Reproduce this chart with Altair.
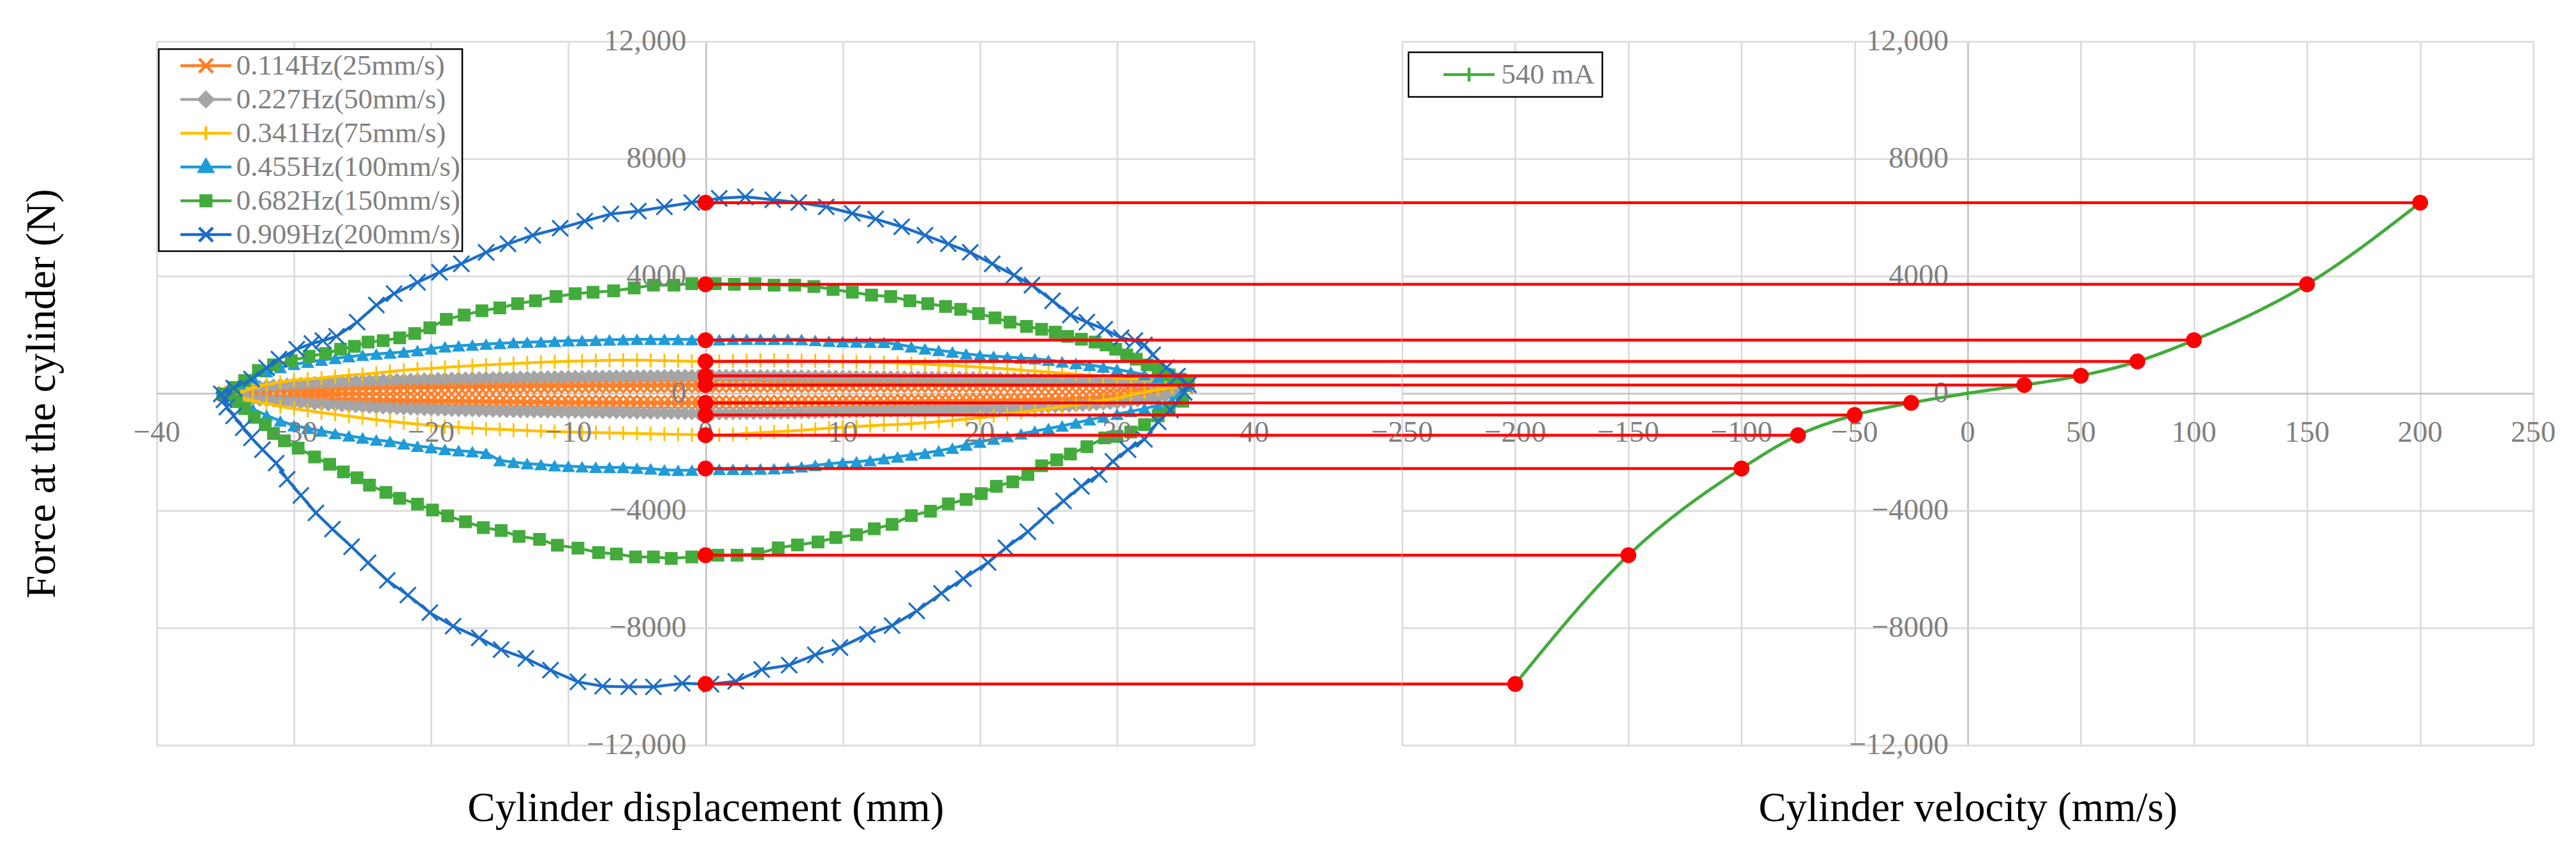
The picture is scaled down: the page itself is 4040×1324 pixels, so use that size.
import altair as alt
import pandas as pd

# ---------------- layout / style constants ----------------
FONT = "Liberation Serif"
LABEL_GREY = "#808080"
GRID_GREY = "#d9d9d9"
ZERO_GREY = "#bfbfbf"
RED = "#ff0000"
LW, RW, PH = 1721, 1774, 1104
GAP = 232

# ---------------- axes ----------------
XL_DOMAIN = [-40, 40]
XR_DOMAIN = [-250, 250]
Y_DOMAIN = [-12000, 12000]
X_TICKS_L = [-40, -30, -20, -10, 0, 10, 20, 30, 40]
X_TICKS_R = [-250, -200, -150, -100, -50, 0, 50, 100, 150, 200, 250]
Y_TICKS = [-12000, -8000, -4000, 0, 4000, 8000, 12000]
AXIS_CROSS = 0  # both axes cross at zero

# ---------------- series ----------------
SERIES = ["0.114Hz(25mm/s)", "0.227Hz(50mm/s)", "0.341Hz(75mm/s)",
          "0.455Hz(100mm/s)", "0.682Hz(150mm/s)", "0.909Hz(200mm/s)"]
SERIES_COLORS = ["#ff7f27", "#a5a5a5", "#ffc000", "#1f9bd7", "#43ab3c", "#1c6ec6"]

# displacement grids (mm) at which the dense loops were read
X05 = [
    -35.0, -34.5, -34.0, -33.5, -33.0, -32.5, -32.0, -31.5, -31.0, -30.5,
    -30.0, -29.5, -29.0, -28.5, -28.0, -27.5, -27.0, -26.5, -26.0, -25.5,
    -25.0, -24.5, -24.0, -23.5, -23.0, -22.5, -22.0, -21.5, -21.0, -20.5,
    -20.0, -19.5, -19.0, -18.5, -18.0, -17.5, -17.0, -16.5, -16.0, -15.5,
    -15.0, -14.5, -14.0, -13.5, -13.0, -12.5, -12.0, -11.5, -11.0, -10.5,
    -10.0, -9.5, -9.0, -8.5, -8.0, -7.5, -7.0, -6.5, -6.0, -5.5,
    -5.0, -4.5, -4.0, -3.5, -3.0, -2.5, -2.0, -1.5, -1.0, -0.5,
    0.0, 0.5, 1.0, 1.5, 2.0, 2.5, 3.0, 3.5, 4.0, 4.5,
    5.0, 5.5, 6.0, 6.5, 7.0, 7.5, 8.0, 8.5, 9.0, 9.5,
    10.0, 10.5, 11.0, 11.5, 12.0, 12.5, 13.0, 13.5, 14.0, 14.5,
    15.0, 15.5, 16.0, 16.5, 17.0, 17.5, 18.0, 18.5, 19.0, 19.5,
    20.0, 20.5, 21.0, 21.5, 22.0, 22.5, 23.0, 23.5, 24.0, 24.5,
    25.0, 25.5, 26.0, 26.5, 27.0, 27.5, 28.0, 28.5, 29.0, 29.5,
    30.0, 30.5, 31.0, 31.5, 32.0, 32.5, 33.0, 33.5, 34.0, 34.5,
    35.0,
]
X1 = [
    -35, -34, -33, -32, -31, -30, -29, -28, -27, -26,
    -25, -24, -23, -22, -21, -20, -19, -18, -17, -16,
    -15, -14, -13, -12, -11, -10, -9, -8, -7, -6,
    -5, -4, -3, -2, -1, 0, 1, 2, 3, 4,
    5, 6, 7, 8, 9, 10, 11, 12, 13, 14,
    15, 16, 17, 18, 19, 20, 21, 22, 23, 24,
    25, 26, 27, 28, 29, 30, 31, 32, 33, 34,
    35,
]

# 0.114 Hz (25 mm/s) - force (N) on X05
ORANGE_UP = [
    -20, 5, 25, 45, 62, 77, 90, 100, 110, 118,
    125, 131, 138, 144, 150, 154, 160, 164, 170, 173,
    177, 181, 185, 188, 192, 196, 200, 203, 207, 211,
    215, 217, 220, 223, 225, 227, 230, 233, 235, 237,
    240, 242, 245, 248, 250, 253, 255, 256, 259, 261,
    262, 263, 265, 266, 268, 269, 270, 271, 272, 273,
    274, 275, 276, 277, 278, 279, 280, 280, 281, 282,
    282, 283, 284, 284, 284, 285, 286, 286, 287, 287,
    287, 288, 288, 289, 289, 289, 290, 290, 290, 291,
    290, 290, 291, 290, 290, 291, 290, 290, 290, 289,
    290, 289, 289, 289, 288, 288, 288, 287, 287, 287,
    286, 286, 286, 285, 285, 285, 284, 284, 284, 284,
    284, 283, 284, 284, 284, 284, 285, 286, 287, 288,
    290, 292, 294, 297, 300, 303, 306, 309, 312, 300,
    250,
]
ORANGE_LO = [
    -20, -42, -60, -76, -90, -103, -115, -126, -135, -143,
    -150, -158, -165, -173, -180, -186, -193, -199, -205, -210,
    -215, -220, -225, -229, -233, -237, -240, -244, -248, -251,
    -255, -258, -262, -265, -268, -271, -274, -277, -280, -283,
    -285, -288, -290, -293, -295, -298, -300, -302, -304, -306,
    -308, -310, -311, -313, -314, -315, -316, -317, -318, -319,
    -320, -321, -322, -323, -323, -324, -325, -325, -326, -326,
    -326, -326, -326, -325, -325, -324, -324, -323, -322, -321,
    -320, -319, -318, -317, -316, -314, -312, -310, -309, -307,
    -305, -304, -302, -300, -298, -297, -295, -293, -290, -288,
    -285, -283, -280, -277, -274, -271, -268, -265, -262, -258,
    -255, -251, -248, -244, -240, -235, -230, -226, -220, -214,
    -208, -202, -195, -187, -178, -170, -160, -150, -139, -128,
    -115, -100, -84, -68, -50, -27, 0, 40, 90, 160,
    250,
]
# 0.227 Hz (50 mm/s) - force (N) on X05
GRAY_UP = [
    -20, 60, 120, 165, 200, 228, 250, 271, 290, 306,
    320, 333, 345, 358, 370, 380, 390, 400, 410, 419,
    428, 437, 445, 451, 458, 464, 470, 475, 480, 485,
    490, 495, 500, 505, 510, 514, 518, 521, 525, 529,
    532, 536, 540, 543, 546, 549, 552, 554, 557, 560,
    562, 565, 567, 570, 572, 574, 576, 578, 580, 582,
    584, 586, 588, 590, 591, 593, 595, 597, 598, 599,
    600, 600, 600, 599, 598, 597, 596, 594, 592, 590,
    588, 587, 585, 582, 580, 578, 575, 573, 570, 568,
    565, 563, 562, 560, 558, 556, 555, 552, 550, 548,
    546, 544, 542, 540, 538, 536, 535, 533, 530, 528,
    525, 520, 515, 510, 505, 501, 498, 494, 490, 483,
    476, 468, 460, 453, 445, 438, 430, 421, 413, 404,
    395, 386, 378, 369, 360, 350, 340, 330, 320, 300,
    250,
]
GRAY_LO = [
    -20, -80, -130, -168, -200, -222, -240, -258, -275, -290,
    -305, -321, -337, -354, -370, -385, -400, -415, -430, -443,
    -456, -468, -480, -490, -500, -510, -520, -528, -535, -543,
    -550, -557, -563, -569, -575, -580, -585, -590, -595, -599,
    -603, -607, -610, -613, -615, -618, -620, -623, -625, -628,
    -630, -633, -635, -638, -640, -643, -645, -648, -650, -653,
    -656, -659, -662, -665, -669, -672, -676, -681, -687, -694,
    -700, -695, -690, -686, -683, -680, -677, -674, -672, -669,
    -666, -663, -660, -656, -652, -649, -645, -641, -637, -633,
    -628, -624, -620, -616, -612, -608, -604, -600, -596, -592,
    -588, -584, -580, -575, -570, -565, -560, -555, -550, -545,
    -540, -533, -526, -519, -512, -505, -497, -489, -480, -470,
    -460, -450, -440, -428, -415, -403, -390, -373, -356, -338,
    -320, -296, -272, -246, -220, -180, -135, -90, -40, 90,
    250,
]
# 0.341 Hz (75 mm/s) - force (N) on X1
YELLOW_UP = [
    -20, 40, 180, 290, 380, 450, 490, 525, 575, 620,
    650, 690, 740, 790, 825, 855, 885, 915, 940, 965,
    990, 1015, 1040, 1060, 1075, 1090, 1105, 1115, 1125, 1130,
    1128, 1122, 1115, 1105, 1095, 1087, 1095, 1105, 1115, 1120,
    1125, 1120, 1115, 1105, 1095, 1085, 1075, 1065, 1050, 1035,
    1015, 995, 975, 950, 920, 890, 860, 830, 795, 760,
    725, 690, 655, 615, 580, 540, 500, 460, 420, 370,
    250,
]
YELLOW_LO = [
    -20, -140, -250, -350, -450, -520, -590, -660, -720, -780,
    -840, -900, -955, -1005, -1050, -1095, -1130, -1160, -1185, -1210,
    -1230, -1250, -1270, -1290, -1305, -1318, -1330, -1340, -1350, -1360,
    -1370, -1380, -1390, -1400, -1410, -1428, -1420, -1400, -1370, -1340,
    -1315, -1290, -1260, -1225, -1190, -1160, -1130, -1105, -1080, -1065,
    -1040, -1005, -965, -925, -880, -830, -770, -710, -650, -590,
    -520, -450, -385, -310, -240, -170, -50, 40, 130, 200,
    250,
]
# 0.455 Hz (100 mm/s) - force (N) on X1
TRI_UP = [
    -20, 330, 540, 740, 880, 990, 1060, 1130, 1190, 1250,
    1300, 1340, 1375, 1410, 1460, 1520, 1590, 1620, 1650, 1680,
    1705, 1730, 1745, 1755, 1775, 1795, 1800, 1812, 1825, 1835,
    1845, 1845, 1845, 1840, 1835, 1815, 1830, 1845, 1845, 1845,
    1845, 1845, 1835, 1805, 1780, 1762, 1752, 1748, 1740, 1670,
    1590, 1520, 1465, 1410, 1345, 1295, 1265, 1240, 1205, 1180,
    1130, 1075, 1020, 960, 900, 820, 730, 640, 550, 460,
    250,
]
TRI_LO = [
    -20, -300, -540, -750, -940, -1100, -1190, -1280, -1370, -1450,
    -1520, -1590, -1640, -1720, -1800, -1850, -1910, -1955, -1990, -2040,
    -2290, -2350, -2395, -2430, -2465, -2485, -2505, -2520, -2525, -2525,
    -2550, -2575, -2610, -2625, -2620, -2565, -2590, -2590, -2590, -2580,
    -2570, -2540, -2505, -2455, -2400, -2360, -2335, -2290, -2225, -2165,
    -2100, -2040, -1960, -1870, -1760, -1660, -1560, -1470, -1380, -1290,
    -1200, -1110, -1010, -900, -800, -710, -620, -520, -410, -270,
    250,
]
# 0.682 Hz (150 mm/s) - read marker positions
GREEN_UP_X = [
    -35.2, -34.4, -33.6, -32.6, -31.5, -30.2, -28.9, -27.7, -26.6, -25.6,
    -24.6, -23.5, -22.3, -21.2, -20.1, -18.9, -17.6, -16.3, -15.0, -13.7,
    -12.4, -10.9, -9.5, -8.2, -6.7, -5.2, -3.8, -2.3, -1.0, 0.7,
    2.1, 3.6, 5.0, 6.5, 7.9, 9.3, 10.7, 12.1, 13.5, 14.9,
    16.2, 17.5, 18.6, 19.9, 21.1, 22.2, 23.4, 24.5, 25.5, 26.4,
    27.4, 28.4, 29.2, 29.9, 30.7, 31.4, 32.2, 33.0, 33.8, 34.6,
    35.2,
]
GREEN_UP_F = [
    -20, 200, 437, 777, 971, 1117, 1262, 1359, 1505, 1602,
    1748, 1796, 1893, 2039, 2233, 2524, 2670, 2816, 2913, 3058,
    3155, 3301, 3398, 3447, 3495, 3592, 3689, 3689, 3738, 3738,
    3718, 3738, 3689, 3689, 3641, 3544, 3447, 3350, 3301, 3155,
    3058, 2961, 2864, 2718, 2573, 2427, 2282, 2184, 2087, 1942,
    1845, 1748, 1650, 1505, 1311, 1165, 971, 825, 631, 485,
    340,
]
GREEN_LO_X = [
    34.8, 33.8, 33.0, 32.0, 31.0, 30.0, 29.1, 27.8, 26.6, 25.6,
    24.5, 23.5, 22.4, 21.2, 20.1, 19.0, 17.7, 16.4, 15.0, 13.6,
    12.3, 11.0, 9.5, 8.2, 6.7, 5.3, 3.8, 2.3, 0.9, -1.0,
    -2.5, -3.8, -5.1, -6.5, -7.8, -9.3, -10.8, -12.1, -13.6, -14.9,
    -16.2, -17.5, -18.8, -19.9, -21.0, -22.3, -23.3, -24.5, -25.4, -26.4,
    -27.4, -28.5, -29.7, -30.7, -31.5, -32.1, -32.9, -33.6, -34.2, -34.7,
]
GREEN_LO_F = [
    -270, -570, -770, -1070, -1320, -1470, -1520, -1820, -2070, -2270,
    -2470, -2770, -3020, -3170, -3420, -3620, -3770, -4020, -4170, -4470,
    -4620, -4820, -4920, -5070, -5170, -5270, -5470, -5520, -5520, -5580,
    -5630, -5580, -5580, -5480, -5430, -5280, -5180, -4980, -4880, -4680,
    -4580, -4380, -4180, -3980, -3780, -3580, -3380, -3130, -2880, -2680,
    -2420, -2170, -1870, -1620, -1370, -1070, -820, -520, -270, -70,
]
# 0.909 Hz (200 mm/s) - read marker positions
BLUE_UP_X = [
    -35.3, -34.4, -33.1, -32.0, -31.1, -29.8, -28.7, -27.9, -26.9, -25.4,
    -24.0, -22.7, -21.0, -19.4, -17.8, -16.0, -14.4, -12.6, -10.6, -8.8,
    -6.9, -4.9, -3.0, -1.0, 1.0, 2.9, 4.9, 6.8, 8.8, 10.7,
    12.4, 14.3, 16.0, 17.7, 19.3, 20.9, 22.5, 23.8, 25.3, 26.6,
    27.8, 29.1, 30.3, 31.3, 32.0, 32.6, 33.6, 34.4, 35.2,
]
BLUE_UP_F = [
    -20, 180, 485, 874, 1165, 1505, 1700, 1796, 1942, 2427,
    3010, 3398, 3786, 4126, 4417, 4806, 5097, 5388, 5631, 5874,
    6117, 6214, 6359, 6505, 6650, 6699, 6602, 6505, 6359, 6136,
    5942, 5680, 5388, 5097, 4806, 4417, 4029, 3689, 3155, 2670,
    2427, 2184, 1893, 1796, 1650, 1311, 874, 583, 291,
]
BLUE_LO_X = [
    34.9, 33.9, 33.0, 32.0, 30.8, 29.7, 28.7, 27.4, 26.1, 24.8,
    23.5, 21.9, 20.6, 18.8, 17.2, 15.4, 13.6, 11.8, 9.8, 8.0,
    6.1, 4.1, 2.2, 0.4, -1.7, -3.8, -5.6, -7.5, -9.3, -11.3,
    -13.1, -14.9, -16.5, -18.4, -20.1, -21.7, -23.2, -24.6, -25.8, -27.2,
    -28.4, -29.5, -30.5, -31.3, -32.3, -33.1, -33.7, -34.4, -34.9, -35.1,
]
BLUE_LO_F = [
    30, -570, -970, -1570, -1920, -2320, -2770, -3170, -3670, -4170,
    -4720, -5270, -5770, -6320, -6820, -7420, -7920, -8220, -8670, -8920,
    -9270, -9420, -9820, -9920, -9890, -10010, -10010, -9990, -9840, -9440,
    -9040, -8740, -8340, -7940, -7480, -6880, -6380, -5780, -5230, -4630,
    -4080, -3480, -2930, -2380, -1920, -1520, -1170, -770, -470, -220,
]

# 540 mA force-velocity curve
CURRENT_NAME = "540 mA"
VEL = [-200, -150, -100, -75, -50, -25, 0, 25, 50, 75, 100, 150, 200]
VEL_F = [-9913, -5522, -2565, -1428, -739, -326, 0, 282, 600, 1087, 1813, 3717, 6500]
GREEN_540 = "#43ab3c"

# red projection points: displacement (loop crossing), velocity, force
RED_X = [0, 0, 0, 0, 0, 0, 0, 0, 0, 0, 0, 0]
RED_V = [200, 150, 100, 75, 50, 25, -25, -50, -75, -100, -150, -200]
RED_F = [6500, 3717, 1813, 1087, 600, 282, -326, -739, -1428, -2565, -5522, -9913]

for a, b in [(X05, ORANGE_UP), (X05, ORANGE_LO), (X05, GRAY_UP), (X05, GRAY_LO),
             (X1, YELLOW_UP), (X1, YELLOW_LO), (X1, TRI_UP), (X1, TRI_LO),
             (GREEN_UP_X, GREEN_UP_F), (GREEN_LO_X, GREEN_LO_F),
             (BLUE_UP_X, BLUE_UP_F), (BLUE_LO_X, BLUE_LO_F), (VEL, VEL_F),
             (RED_V, RED_F), (RED_X, RED_F)]:
    assert len(a) == len(b), (len(a), len(b))

# ---------------- marker shapes ----------------
X_PATH = "M-1,-1L1,1M-1,1L1,-1"
PLUS_PATH = "M0,-1L0,1M-1,0L1,0"
LEG_X = "M-1,0L1,0M-0.27,-0.27L0.27,0.27M-0.27,0.27L0.27,-0.27"
LEG_DIAMOND = "M-1,0L1,0M0,-0.28L0.28,0L0,0.28L-0.28,0Z"
LEG_PLUS = "M-1,0L1,0M0,-0.27L0,0.27"
LEG_TRI = "M-1,0L1,0M0,-0.28L0.26,0.18L-0.26,0.18Z"
LEG_SQ = "M-1,0L1,0M-0.2,-0.2L0.2,-0.2L0.2,0.2L-0.2,0.2Z"

MARKERS = [
    dict(shape=X_PATH, filled=False, size=520, strokeWidth=3.6),
    dict(shape="diamond", filled=True, size=480),
    dict(shape=PLUS_PATH, filled=False, size=480, strokeWidth=2.8),
    dict(shape="triangle-up", filled=True, size=440),
    dict(shape="square", filled=True, size=400),
    dict(shape=X_PATH, filled=False, size=620, strokeWidth=3.2),
]
LEGEND_PATHS = [LEG_X, LEG_DIAMOND, LEG_PLUS, LEG_TRI, LEG_SQ, LEG_X]


def loop_df(xu, fu, xl, fl):
    up = list(zip(xu, fu))
    lo = sorted(zip(xl, fl), key=lambda p: p[0], reverse=True)
    pts = up + lo
    return pd.DataFrame({"x": [p[0] for p in pts], "F": [p[1] for p in pts],
                         "i": list(range(len(pts)))})


GRID_COLOR = {"condition": {"test": "datum.value === 0", "value": ZERO_GREY}, "value": GRID_GREY}


def x_axis(values, title):
    return alt.Axis(values=values, orient="bottom", grid=True, gridColor=GRID_COLOR, gridWidth=2.5,
                    domain=False, ticks=False, labels=False,
                    title=title, titleFont=FONT, titleFontSize=65, titleFontWeight="normal",
                    titleColor="black", titlePadding=67, minExtent=0)


def y_axis(values, title):
    return alt.Axis(values=values, orient="left", grid=True, gridColor=GRID_COLOR, gridWidth=2.5,
                    domain=False, ticks=False, labels=False,
                    title=title, titleFont=FONT, titleFontSize=65, titleFontWeight="normal",
                    titleColor="black", titlePadding=147, minExtent=0)


def legend(x, y, pad, sym_off, lab_off):
    return alt.Legend(title=None, orient="none", legendX=x, legendY=y, padding=pad,
                      strokeColor="black", fillColor="white", clipHeight=46, rowPadding=7,
                      symbolSize=6400, symbolStrokeWidth=4.5, symbolOpacity=1,
                      symbolOffset=sym_off, labelOffset=lab_off,
                      labelFont=FONT, labelFontSize=45, labelColor=LABEL_GREY, labelLimit=1000)


XS_L = alt.Scale(domain=XL_DOMAIN, nice=False, zero=False)
XS_R = alt.Scale(domain=XR_DOMAIN, nice=False, zero=False)
YS = alt.Scale(domain=Y_DOMAIN, nice=False, zero=False)

AX_XL = x_axis(X_TICKS_L, "Cylinder displacement (mm)")
AX_YL = y_axis(Y_TICKS, "Force at the cylinder (N)")
AX_XR = x_axis(X_TICKS_R, "Cylinder velocity (mm/s)")
AX_YR = y_axis(Y_TICKS, None)


def xl(field):
    return alt.X(field, scale=XS_L, axis=AX_XL)


def xr(field):
    return alt.X(field, scale=XS_R, axis=AX_XR)


def yl(field):
    return alt.Y(field, scale=YS, axis=AX_YL)


def yr(field):
    return alt.Y(field, scale=YS, axis=AX_YR)


def tick_label_layers(x_ticks, xenc, yenc):
    # Excel-style labels sitting next to the axes that cross at zero (drawn above the series)
    xdf = pd.DataFrame({"t": x_ticks, "c": [AXIS_CROSS] * len(x_ticks)})
    ydf = pd.DataFrame({"t": Y_TICKS, "c": [AXIS_CROSS] * len(Y_TICKS)})
    xlab = alt.Chart(xdf).transform_calculate(lab="format(datum.t, 'd')").mark_text(
        font=FONT, fontSize=47, color=LABEL_GREY, align="center", baseline="top", dy=39).encode(
        x=xenc("t:Q"), y=yenc("c:Q"), text="lab:N")
    ylab = alt.Chart(ydf).transform_calculate(
        lab="abs(datum.t) >= 10000 ? format(datum.t, ',') : format(datum.t, 'd')").mark_text(
        font=FONT, fontSize=47, color=LABEL_GREY, align="right", baseline="middle", dx=-30).encode(
        x=xenc("c:Q"), y=yenc("t:Q"), text="lab:N")
    return [xlab, ylab]


def legend_layer(names, paths, colors, leg, cx, cy):
    # invisible anchor points that only carry the legend (line + marker symbols)
    return alt.Chart(pd.DataFrame({"series": names})).mark_point(
        filled=True, opacity=0, size=6400, strokeWidth=4.5).encode(
        x=alt.value(cx), y=alt.value(cy),
        shape=alt.Shape("series:N", scale=alt.Scale(domain=names, range=paths), legend=leg),
        fill=alt.Fill("series:N", scale=alt.Scale(domain=names, range=colors), legend=leg),
        stroke=alt.Stroke("series:N", scale=alt.Scale(domain=names, range=colors), legend=leg),
    )


# ---------------- left panel ----------------
loops = [
    (X05, ORANGE_UP, X05, ORANGE_LO),
    (X05, GRAY_UP, X05, GRAY_LO),
    (X1, YELLOW_UP, X1, YELLOW_LO),
    (X1, TRI_UP, X1, TRI_LO),
    (GREEN_UP_X, GREEN_UP_F, GREEN_LO_X, GREEN_LO_F),
    (BLUE_UP_X, BLUE_UP_F, BLUE_LO_X, BLUE_LO_F),
]

left_layers = []
for k, (xu, fu, xlo, flo) in enumerate(loops):
    df = loop_df(xu, fu, xlo, flo)
    color = SERIES_COLORS[k]
    line = alt.Chart(df).mark_line(color=color, strokeWidth=4.5, strokeJoin="round").encode(
        x=xl("x:Q"), y=yl("F:Q"), order="i:Q")
    pts = alt.Chart(df).mark_point(color=color, opacity=1, **MARKERS[k]).encode(
        x=xl("x:Q"), y=yl("F:Q"))
    left_layers += [line, pts]

red_df = pd.DataFrame({"x0": RED_X, "v": RED_V, "F": RED_F})
left_red_rules = alt.Chart(red_df).mark_rule(color=RED, strokeWidth=4.5).encode(
    x=xl("x0:Q"), x2=alt.value(LW + GAP), y=yl("F:Q"))
left_red_dots = alt.Chart(red_df).mark_circle(color=RED, size=620, opacity=1).encode(
    x=xl("x0:Q"), y=yl("F:Q"))
left_legend = legend_layer(SERIES, LEGEND_PATHS, SERIES_COLORS, legend(3, 12, 3, 28.5, 5), LW / 2, PH / 2)

left = alt.layer(*left_layers, *tick_label_layers(X_TICKS_L, xl, yl),
                 left_red_rules, left_red_dots, left_legend).properties(width=LW, height=PH)

# ---------------- right panel ----------------
vel_df = pd.DataFrame({"v": VEL, "F": VEL_F})
green_line = alt.Chart(vel_df).mark_line(color=GREEN_540, strokeWidth=5, interpolate="monotone").encode(
    x=xr("v:Q"), y=yr("F:Q"))
green_pts = alt.Chart(vel_df).mark_point(shape=PLUS_PATH, filled=False, color=GREEN_540,
                                         size=420, strokeWidth=2.6, opacity=1).encode(
    x=xr("v:Q"), y=yr("F:Q"))
right_red_rules = alt.Chart(red_df).mark_rule(color=RED, strokeWidth=4.5).encode(
    x=xr("v:Q"), x2=alt.value(0), y=yr("F:Q"))
right_red_dots = alt.Chart(red_df).mark_circle(color=RED, size=620, opacity=1).encode(
    x=xr("v:Q"), y=yr("F:Q"))
right_legend = legend_layer([CURRENT_NAME], [LEG_PLUS], [GREEN_540], legend(10, 17, 12, 40.5, 8), RW / 2, PH / 2)

right = alt.layer(green_line, green_pts, *tick_label_layers(X_TICKS_R, xr, yr),
                  right_red_rules, right_red_dots, right_legend).properties(width=RW, height=PH)

chart = alt.hconcat(left, right, spacing=GAP, bounds="flush").resolve_scale(
    shape="independent", fill="independent", stroke="independent"
).resolve_legend(
    shape="independent", fill="independent", stroke="independent"
).properties(
    padding={"left": 24, "top": 32, "right": 10, "bottom": 5}
).configure_view(stroke="transparent").configure_legend(strokeWidth=2.5)

chart.save("out.html", embed_options={"renderer": "svg", "actions": False})
